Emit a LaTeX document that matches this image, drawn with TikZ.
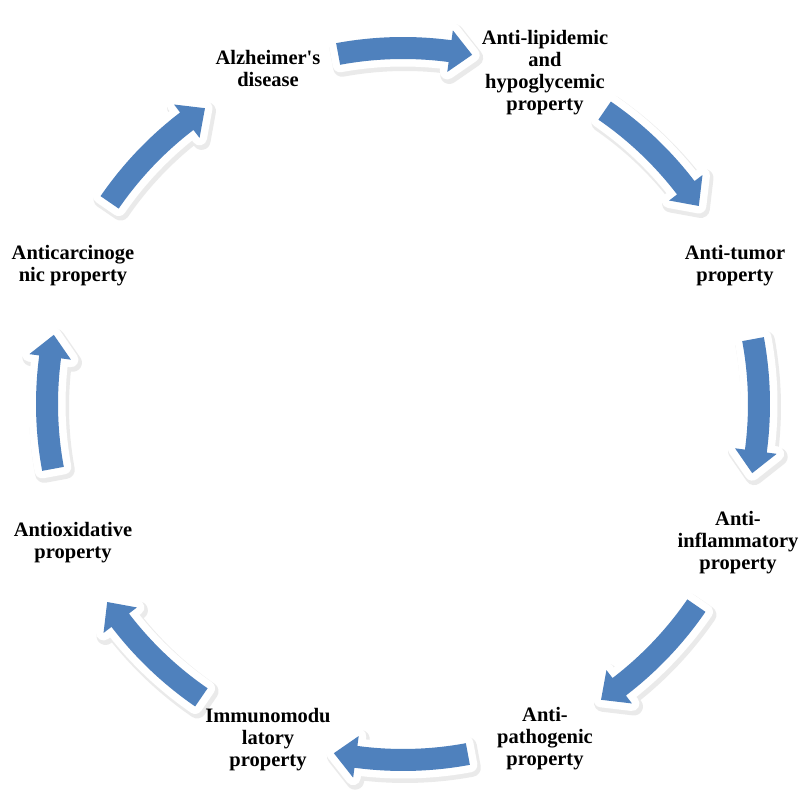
\documentclass[tikz,border=0pt]{standalone}
\usepackage{fontspec}
\setmainfont{Liberation Serif}
\usepackage{tikz}
\definecolor{cycleblue}{HTML}{4F81BD}
\definecolor{shadowgray}{HTML}{7F7F7F}
% block arrow along the ring, centred on angle #1, pointing clockwise
\newcommand\ringarrow[1]{%
  (#1+10.5:367) arc[start angle=#1+10.5,end angle=#1-7.6,radius=367]
  -- (#1-7.6:377) -- (#1-11.2:356) -- (#1-7.6:335) -- (#1-7.6:345)
  arc[start angle=#1-7.6,end angle=#1+10.5,radius=345] -- cycle}

\begin{document}
\begin{tikzpicture}[x=1pt,y=1pt,
  effect/.style={font=\fontsize{20.5}{22}\selectfont\bfseries,align=center,inner sep=0pt},
  arshadow/.style={draw=shadowgray,line width=18pt,line join=round,opacity=0.16},
  arborder/.style={fill=white,draw=white,line width=15pt,line join=round},
  arbody/.style={fill=cycleblue,draw=none}]
\useasboundingbox (0,0) rectangle (804,794);
\begin{scope}[shift={(403,390)}]
\foreach \c in {90,45,0,-45,-90,-135,180,135} {
  \draw[arshadow,shift={(2,-3)}] \ringarrow{\c};
  \draw[arborder] \ringarrow{\c};
  \fill[arbody] \ringarrow{\c};
}
\end{scope}
\node[effect] (alz) at (268,725) {Alzheimer\textquotesingle s\\disease};
\node[effect] (lipid) at (545,721) {Anti-lipidemic\\and\\hypoglycemic\\property};
\node[effect] (tumor) at (735,528) {Anti-tumor\\property};
\node[effect] (inflam) at (738,251) {Anti-\\inflammatory\\property};
\node[effect] (patho) at (545,55) {Anti-\\pathogenic\\property};
\node[effect] (immuno) at (268,54) {Immunomodu\\latory\\property};
\node[effect] (oxid) at (73,251) {Antioxidative\\property};
\node[effect] (carcino) at (73,528) {Anticarcinoge\\nic property};
\end{tikzpicture}
\end{document}
